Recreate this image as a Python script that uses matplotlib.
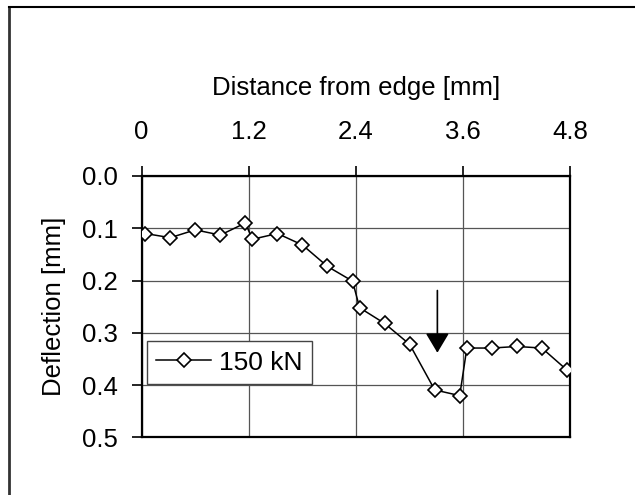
import matplotlib
matplotlib.use("Agg")
import matplotlib.pyplot as plt
from matplotlib.lines import Line2D

# Data
distance = [0.04, 0.32, 0.60, 0.88, 1.16, 1.24, 1.52, 1.80, 2.08, 2.36,
            2.44, 2.72, 3.00, 3.28, 3.56, 3.64, 3.92, 4.20, 4.48, 4.76]
deflection = [0.110, 0.118, 0.103, 0.113, 0.090, 0.121, 0.110, 0.132, 0.173, 0.201,
              0.252, 0.282, 0.322, 0.409, 0.420, 0.329, 0.329, 0.326, 0.329, 0.371]
x_ticks = [0, 1.2, 2.4, 3.6, 4.8]
x_tick_labels = ["0", "1.2", "2.4", "3.6", "4.8"]
y_ticks = [0.0, 0.1, 0.2, 0.3, 0.4, 0.5]
y_tick_labels = ["0.0", "0.1", "0.2", "0.3", "0.4", "0.5"]
series_name = "150 kN"
arrow_x = 3.31
arrow_from = 0.219
arrow_to = 0.338

plt.rcParams['font.family'] = ['Liberation Sans', 'DejaVu Sans']

fig = plt.figure(figsize=(6.35, 4.95), dpi=100)

# outer frame (only left and top edges visible)
fig.add_artist(Line2D([0.0135, 0.0135], [0, 0.986], transform=fig.transFigure,
                      color="#333333", lw=2.0))
fig.add_artist(Line2D([0.0135, 1.0], [0.986, 0.986], transform=fig.transFigure,
                      color="black", lw=1.5))

ax = fig.add_axes([0.2231, 0.1162, 0.6753, 0.5283])

ax.plot(distance, deflection, color="black", lw=1.1, marker="D", ms=7,
        mfc="white", mec="black", mew=1.2, label=series_name, zorder=3)

ax.set_xlim(0, 4.8)
ax.set_ylim(0.5, 0.0)
ax.xaxis.tick_top()
ax.xaxis.set_label_position("top")
ax.set_xticks(x_ticks)
ax.set_xticklabels(x_tick_labels)
ax.set_yticks(y_ticks)
ax.set_yticklabels(y_tick_labels)
ax.tick_params(axis="both", labelsize=18.5, direction="out", length=7, width=1.2,
               colors="black")
ax.tick_params(axis="y", pad=10)
ax.tick_params(axis="x", pad=16)

ax.set_xlabel("Distance from edge [mm]", fontsize=18.5, labelpad=18)
ax.set_ylabel("Deflection [mm]", fontsize=18.5, labelpad=12)

ax.grid(True, color="#555555", lw=0.9)
ax.set_axisbelow(True)
for sp in ax.spines.values():
    sp.set_linewidth(1.6)
    sp.set_color("black")

ax.annotate("", xy=(arrow_x, arrow_to), xytext=(arrow_x, arrow_from),
            arrowprops=dict(arrowstyle="-|>,head_length=0.87,head_width=0.52",
                            mutation_scale=14, color="black", lw=1.2,
                            shrinkA=0, shrinkB=0))

leg = ax.legend(loc="lower left", bbox_to_anchor=(0.012, 0.205), borderaxespad=0,
                fontsize=19, fancybox=False, edgecolor="#444444", framealpha=1,
                handlelength=2.1, borderpad=0.35, handletextpad=0.3)
leg.get_frame().set_linewidth(1.0)

fig.savefig("out.png", dpi=100)
